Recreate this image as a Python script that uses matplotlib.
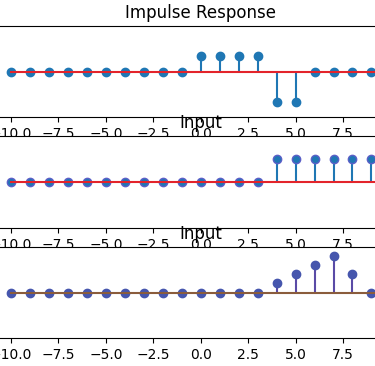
import numpy as np
import matplotlib.pyplot as plt

# Sample index and the three signals
n = np.arange(-10, 11)
h = [0, 0, 0, 0, 0, 0, 0, 0, 0, 0, 1, 1, 1, 1, -2, -2, 0, 0, 0, 0, 0]
x = [0, 0, 0, 0, 0, 0, 0, 0, 0, 0, 0, 0, 0, 0, 1, 1, 1, 1, 1, 1, 1]
y = [0, 0, 0, 0, 0, 0, 0, 0, 0, 0, 0, 0, 0, 0, 1, 2, 3, 4, 2, 0, 0]

titles = ['Impulse Response', 'Input', 'Input']
ylims = [(-3, 3), (-2, 2), (-5, 5)]

fig = plt.figure(figsize=(3.75, 3.66), dpi=100)

# axes run past the figure edges like the cropped original
left, width = -0.0213, 1.113
bottoms = [0.680, 0.377, 0.0765]
heights = [0.2486, 0.251, 0.2486]

signals = [h, x, y]
for i in range(3):
    ax = fig.add_axes([left, bottoms[i], width, heights[i]])
    if i < 2:
        ml, sl, bl = ax.stem(n, signals[i])
        plt.setp(bl, color='#e3242b')
        if i == 1:
            ml.set_markeredgecolor('#5b5fc7')
    else:
        ml, sl, bl = ax.stem(n, signals[i])
        plt.setp(ml, color='#4656ad')
        plt.setp(sl, color='#5a4ba6')
        plt.setp(bl, color='#8a5c3c')
    ax.set_title(titles[i])
    ax.set_xlim(-11, 11)
    ax.set_ylim(ylims[i])

plt.savefig('out.png', dpi=100)
